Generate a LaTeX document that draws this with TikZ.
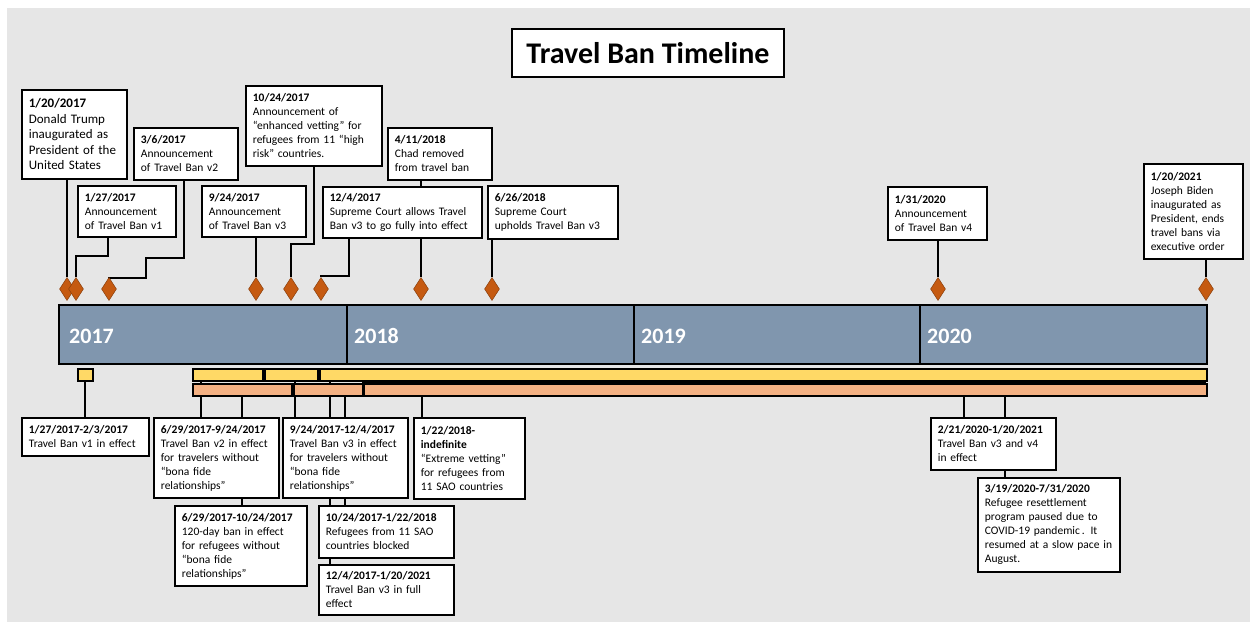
\documentclass[tikz,border=0pt]{standalone}
\usepackage{fontspec}
\setmainfont{Carlito}
\usetikzlibrary{shapes.geometric,calc}
\definecolor{bgray}{HTML}{E6E6E6}
\definecolor{barblue}{HTML}{8096AE}
\definecolor{dmd}{HTML}{C55A11}
\definecolor{ybar}{HTML}{FFD966}
\definecolor{obar}{HTML}{F4B183}
\pgfdeclarelayer{bg}
\pgfdeclarelayer{background}
\pgfsetlayers{bg,background,main}
\begin{document}
\begin{tikzpicture}[x=1pt,y=-1pt,
 tbox/.style={draw=black, line width=1.8pt, fill=white, anchor=north west, inner xsep=7pt, inner ysep=2pt, align=left, font=\fontsize{11.5}{14}\selectfont},
 conn/.style={draw=black, line width=1.8pt},
 dia/.style={shape=diamond, fill=dmd, draw=dmd!70!black, line width=0.5pt, minimum width=15pt, minimum height=23pt, inner sep=0pt},
 yearbar/.style={draw=black, line width=2pt, fill=barblue, anchor=north west, minimum height=59pt, inner sep=0pt},
 yearlbl/.style={text=white, font=\fontsize{22}{26}\selectfont\bfseries, anchor=base west, inner sep=0pt},
 ybox/.style={draw=black, line width=1.5pt, fill=ybar, anchor=north west, minimum height=12pt, inner sep=0pt},
 obox/.style={draw=black, line width=1.5pt, fill=obar, anchor=north west, minimum height=12pt, inner sep=0pt}]
\useasboundingbox (0,0) rectangle (1250,626);
\begin{pgfonlayer}{bg}
\fill[white] (0,0) rectangle (1250,626);
\fill[bgray] (7,8) rectangle (1250,622);
\end{pgfonlayer}

% title
\node[draw=black, line width=1.8pt, fill=white, minimum width=272pt, minimum height=48pt, inner sep=0pt, font=\fontsize{30}{36}\selectfont\bfseries] (title) at (648,53) {Travel Ban Timeline};

% year bar
\node[yearbar, minimum width=288pt] (Y17) at (58,304) {};
\node[yearbar, minimum width=287pt] (Y18) at (346,304) {};
\node[yearbar, minimum width=286pt] (Y19) at (633,304) {};
\node[yearbar, minimum width=287pt] (Y20) at (919,304) {};
\node[yearlbl] (L17) at ($(Y17.west)+(11,9)$) {2017};
\node[yearlbl] (L18) at ($(Y18.west)+(8,9)$) {2018};
\node[yearlbl] (L19) at ($(Y19.west)+(8,9)$) {2019};
\node[yearlbl] (L20) at ($(Y20.west)+(8,9)$) {2020};

% period bars
\node[ybox, minimum width=15pt] (yv1) at (77,368) {};
\node[ybox, minimum width=70pt] (yA) at (192,368) {};
\node[ybox, minimum width=53pt] (yB) at (264,368) {};
\node[ybox, minimum width=887pt] (yC) at (319,368) {};
\node[obox, minimum width=99pt] (oA) at (192,383) {};
\node[obox, minimum width=69pt] (oB) at (293,383) {};
\node[obox, minimum width=843pt] (oC) at (363,383) {};

% diamonds
\node[dia] (d1) at (67,289) {};
\node[dia] (d2) at (76,289) {};
\node[dia] (d3) at (109,289) {};
\node[dia] (d4) at (256,289) {};
\node[dia] (d5) at (291,289) {};
\node[dia] (d6) at (321,289) {};
\node[dia] (d7) at (421,289) {};
\node[dia] (d8) at (492,289) {};
\node[dia] (d9) at (938,289) {};
\node[dia] (d10) at (1206,289) {};

% top boxes
\node[tbox, minimum width=105pt, minimum height=89pt, text width=91pt, font=\fontsize{13}{15.5}\selectfont] (T1) at (21,89) {\textbf{1/20/2017}\\Donald Trump\\inaugurated as\\President of the\\United States};
\node[tbox, minimum width=98pt, minimum height=51pt, text width=84pt] (T2) at (77,185) {\textbf{1/27/2017}\\Announcement\\of Travel Ban v1};
\node[tbox, minimum width=104pt, minimum height=52pt, text width=90pt] (T3) at (133,127) {\textbf{3/6/2017}\\Announcement\\of Travel Ban v2};
\node[tbox, minimum width=104pt, minimum height=51pt, text width=90pt] (T4) at (201,185) {\textbf{9/24/2017}\\Announcement\\of Travel Ban v3};
\node[tbox, minimum width=136pt, minimum height=80pt, text width=122pt] (T5) at (245,85) {\textbf{10/24/2017}\\Announcement of\\“enhanced vetting” for\\refugees from 11 “high\\risk” countries.};
\node[tbox, minimum width=159pt, minimum height=51pt, text width=145pt] (T6) at (322,186) {\textbf{12/4/2017}\\Supreme Court allows Travel\\Ban v3 to go fully into effect};
\node[tbox, minimum width=104pt, minimum height=52pt, text width=90pt] (T7) at (387,127) {\textbf{4/11/2018}\\Chad removed\\from travel ban};
\node[tbox, minimum width=130pt, minimum height=53pt, text width=116pt] (T8) at (487,185) {\textbf{6/26/2018}\\Supreme Court\\upholds Travel Ban v3};
\node[tbox, minimum width=99pt, minimum height=53pt, text width=85pt] (T9) at (887,186) {\textbf{1/31/2020}\\Announcement\\of Travel Ban v4};
\node[tbox, minimum width=99pt, minimum height=95pt, text width=85pt] (T10) at (1143,163) {\textbf{1/20/2021}\\Joseph Biden\\inaugurated as\\President, ends\\travel bans via\\executive order};

% bottom boxes
\node[tbox, minimum width=127pt, minimum height=38pt, text width=113pt] (B1) at (21,417) {\textbf{1/27/2017-2/3/2017}\\Travel Ban v1 in effect};
\node[tbox, minimum width=125pt, minimum height=80pt, text width=111pt] (B2) at (153,417) {\textbf{6/29/2017-9/24/2017}\\Travel Ban v2 in effect\\for travelers without\\“bona fide\\relationships”};
\node[tbox, minimum width=132pt, minimum height=80pt, text width=118pt] (B3) at (174,505) {\textbf{6/29/2017-10/24/2017}\\120-day ban in effect\\for refugees without\\“bona fide\\relationships”};
\node[tbox, minimum width=125pt, minimum height=80pt, text width=111pt] (B4) at (282,417) {\textbf{9/24/2017-12/4/2017}\\Travel Ban v3 in effect\\for travelers without\\“bona fide\\relationships”};
\node[tbox, minimum width=111pt, minimum height=81pt, text width=97pt] (B5) at (413,417) {\textbf{1/22/2018-}\\\textbf{indefinite}\\“Extreme vetting”\\for refugees from\\11 SAO countries};
\node[tbox, minimum width=135pt, minimum height=52pt, text width=121pt] (B6) at (318,505) {\textbf{10/24/2017-1/22/2018}\\Refugees from 11 SAO\\countries blocked};
\node[tbox, minimum width=135pt, minimum height=50pt, text width=121pt] (B7) at (318,564) {\textbf{12/4/2017-1/20/2021}\\Travel Ban v3 in full\\effect};
\node[tbox, minimum width=125pt, minimum height=52pt, text width=111pt] (B8) at (930,417) {\textbf{2/21/2020-1/20/2021}\\Travel Ban v3 and v4\\in effect};
\node[tbox, minimum width=142pt, minimum height=94pt, text width=128pt] (B9) at (977,477) {\textbf{3/19/2020-7/31/2020}\\Refugee resettlement\\program paused due to\\COVID-19 pandemic\,. It\\resumed at a slow pace in\\August.};

% anchor points for bottom connectors
\coordinate (k2) at ($(B2.north west)+(48,0)$);
\coordinate (k3) at ($(B3.north west)+(68,0)$);
\coordinate (k4) at ($(B4.north west)+(13,0)$);
\coordinate (k5) at ($(B7.north west)+(12,0)$);
\coordinate (k6) at ($(B6.north west)+(27,0)$);
\coordinate (k7) at ($(B5.north west)+(9,0)$);
\coordinate (k8) at ($(B8.north west)+(34,0)$);
\coordinate (k9) at ($(B9.north west)+(28,0)$);

\begin{pgfonlayer}{background}
% black band between long bars
\fill[black] (362,379) rectangle (1206,384);
% top connectors
\draw[conn] (d1 |- T1.south) -- (d1);
\draw[conn] ($(T2.south west)+(31,0)$) -- ++(0,18) -| (d2);
\draw[conn] ($(T3.south west)+(51,0)$) -- ++(0,77) -- ++(-38,0) -- ++(0,20) -| (d3);
\draw[conn] (d4 |- T4.south) -- (d4);
\draw[conn] ($(T5.south west)+(69,0)$) -- ++(0,77) -| (d5);
\draw[conn] ($(T6.south west)+(27,0)$) -- ++(0,37) -| (d6);
\draw[conn] (d7 |- T7.south) -- (d7);
\draw[conn] (d8 |- T8.south) -- (d8);
\draw[conn] (d9 |- T9.south) -- (d9);
\draw[conn] (d10 |- T10.south) -- (d10);
% bottom connectors
\draw[conn] (yv1.center) -- (yv1.center |- B1.north);
\draw[conn] (k2 |- yA.center) -- (k2);
\draw[conn] (k3 |- oA.center) -- (k3);
\draw[conn] (k4 |- yB.center) -- (k4);
\draw[conn] (k5 |- yC.center) -- (k5);
\draw[conn] (k6 |- oB.center) -- (k6);
\draw[conn] (k7 |- oC.center) -- (k7);
\draw[conn] (k8 |- yC.center) -- (k8);
\draw[conn] (k9 |- oC.center) -- (k9);
\end{pgfonlayer}
\end{tikzpicture}
\end{document}
